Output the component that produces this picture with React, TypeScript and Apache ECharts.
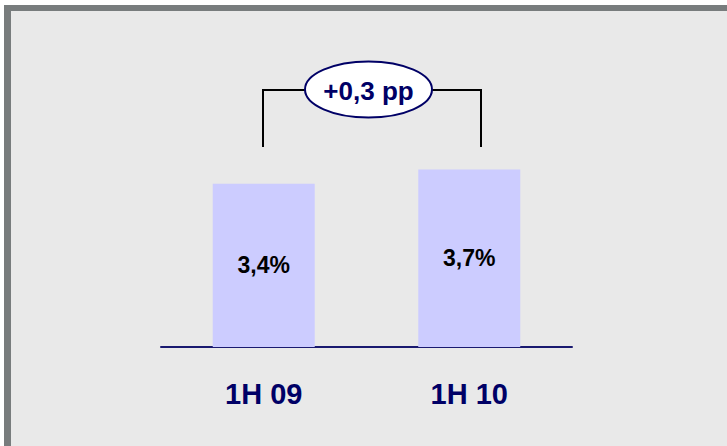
import React, { useEffect, useRef } from "react";
import * as echarts from "echarts";

const categories = ["1H 09", "1H 10"];
const values = [3.4, 3.7];
const valueLabels = ["3,4%", "3,7%"];
const deltaLabel = "+0,3 pp";

const NAVY = "#000066";
const FONT = "Arial, 'Liberation Sans', sans-serif";

export default function App() {
  const ref = useRef<HTMLDivElement>(null);
  useEffect(() => {
    document.body.style.margin = "0";
    const chart = echarts.init(ref.current!, null, { renderer: "svg" });
    chart.setOption({
      animation: false,
      backgroundColor: "transparent",
      grid: { left: 161, right: 155, top: 107, bottom: 99 },
      xAxis: {
        type: "category",
        data: categories,
        axisLine: { lineStyle: { color: "#1a1a70", width: 2 } },
        axisTick: { show: false },
        axisLabel: {
          color: NAVY,
          fontSize: 29,
          fontWeight: "bold",
          fontFamily: FONT,
          margin: 32,
        },
      },
      yAxis: { type: "value", min: 0, max: 5, show: false, splitLine: { show: false } },
      series: [
        {
          type: "bar",
          data: values,
          barWidth: 102,
          itemStyle: { color: "#ccccff" },
          label: {
            show: true,
            position: "inside",
            color: "#000",
            fontSize: 23,
            fontWeight: "bold",
            fontFamily: FONT,
            formatter: (p: any) => valueLabels[p.dataIndex],
          },
        },
      ],
      graphic: [
        {
          type: "polyline",
          shape: { points: [[263, 147], [263, 90], [305, 90]] },
          style: { stroke: "#000", lineWidth: 2, fill: null },
        },
        {
          type: "polyline",
          shape: { points: [[432, 90], [481, 90], [481, 147]] },
          style: { stroke: "#000", lineWidth: 2, fill: null },
        },
        {
          type: "ellipse",
          shape: { cx: 368.5, cy: 89.5, rx: 63.5, ry: 28 },
          style: { fill: "#fff", stroke: NAVY, lineWidth: 2 },
        },
        {
          type: "text",
          x: 368.5,
          y: 91,
          style: {
            text: deltaLabel,
            fill: NAVY,
            fontSize: 26,
            fontWeight: "bold",
            fontFamily: FONT,
            align: "center",
            verticalAlign: "middle",
          },
        },
      ],
    });
    return () => chart.dispose();
  }, []);
  return (
    <div style={{ position: "relative", width: 727, height: 446, background: "#fff", overflow: "hidden" }}>
      <div
        style={{
          position: "absolute",
          left: 4,
          top: 5,
          width: 723,
          height: 441,
          boxSizing: "border-box",
          borderLeft: "7px solid #787c7d",
          borderTop: "6px solid #787c7d",
          background: "#e9e9e9",
        }}
      />
      <div ref={ref} style={{ position: "absolute", left: 0, top: 0, width: 727, height: 446 }} />
    </div>
  );
}
